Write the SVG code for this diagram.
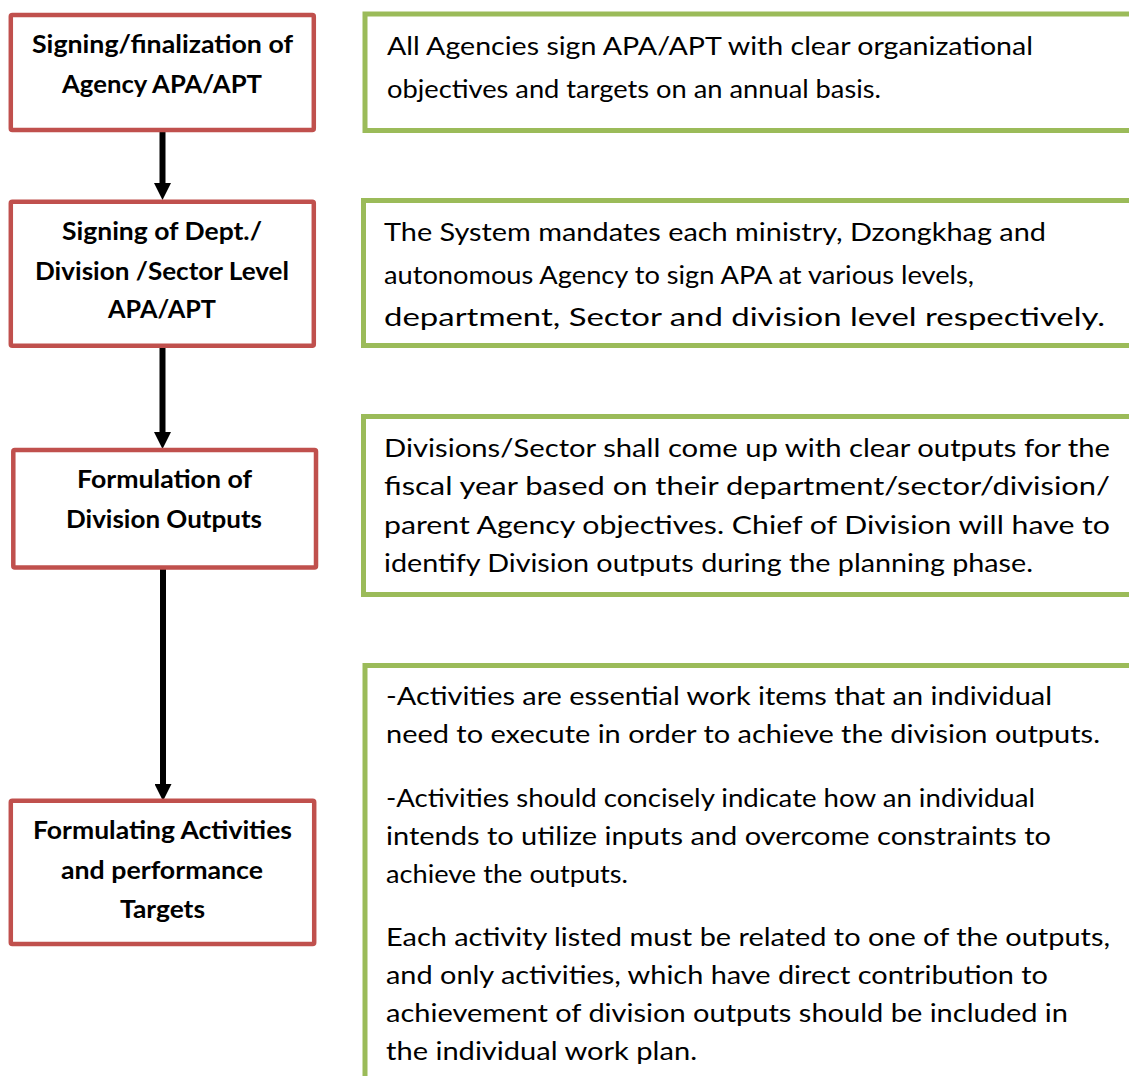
<svg xmlns="http://www.w3.org/2000/svg" width="1129" height="1076" viewBox="0 0 1129 1076">
<style>
.step{fill:#ffffff;stroke:#c0504d;stroke-width:4.5}
.note{fill:#ffffff;stroke:#9bbb59;stroke-width:5}
.lbl{font-family:Lato,"Open Sans","Liberation Sans",sans-serif;font-weight:700;font-size:25px;fill:#000000}
.txt{font-family:Lato,"Open Sans","Liberation Sans",sans-serif;font-weight:400;font-size:25px;fill:#000000}
.conn{stroke:#000000;stroke-width:6;fill:none}
</style>
<defs>
<marker id="ah" markerUnits="userSpaceOnUse" markerWidth="17" markerHeight="17" viewBox="0 0 17 17" refX="1" refY="8.5" orient="auto">
<path d="M0,0 L17,8.5 L0,17 Z" fill="#000000"/>
</marker>
</defs>
<rect width="1129" height="1076" fill="#ffffff"/>
<g id="connectors">
<line class="conn" x1="162.5" y1="131" x2="162.5" y2="184" marker-end="url(#ah)"/>
<line class="conn" x1="162.5" y1="347" x2="162.5" y2="433" marker-end="url(#ah)"/>
<line class="conn" x1="163" y1="569" x2="163" y2="785" marker-end="url(#ah)"/>
</g>
<g id="step1">
<rect class="step" x="10.8" y="15" width="303" height="115" rx="1.5"/>
<text class="lbl" x="32" y="53" textLength="261" lengthAdjust="spacingAndGlyphs">Signing/finalization of</text>
<text class="lbl" x="62" y="93" textLength="200" lengthAdjust="spacingAndGlyphs">Agency APA/APT</text>
</g>
<g id="step2">
<rect class="step" x="10.8" y="201.7" width="303" height="144" rx="1.5"/>
<text class="lbl" x="62" y="240" textLength="200" lengthAdjust="spacingAndGlyphs">Signing of Dept./</text>
<text class="lbl" x="35" y="280" textLength="254" lengthAdjust="spacingAndGlyphs">Division /Sector Level</text>
<text class="lbl" x="108" y="318" textLength="108" lengthAdjust="spacingAndGlyphs">APA/APT</text>
</g>
<g id="step3">
<rect class="step" x="13.3" y="450" width="302.7" height="117.5" rx="1.5"/>
<text class="lbl" x="77" y="488" textLength="175" lengthAdjust="spacingAndGlyphs">Formulation of</text>
<text class="lbl" x="66" y="528" textLength="196" lengthAdjust="spacingAndGlyphs">Division Outputs</text>
</g>
<g id="step4">
<rect class="step" x="10.8" y="800.8" width="303.4" height="143.2" rx="1.5"/>
<text class="lbl" x="33" y="839" textLength="259" lengthAdjust="spacingAndGlyphs">Formulating Activities</text>
<text class="lbl" x="61" y="879" textLength="202" lengthAdjust="spacingAndGlyphs">and performance</text>
<text class="lbl" x="120" y="918" textLength="85" lengthAdjust="spacingAndGlyphs">Targets</text>
</g>
<g id="note1">
<rect class="note" x="365" y="14" width="800" height="116.5"/>
<text class="txt" x="387" y="55" textLength="646" lengthAdjust="spacingAndGlyphs">All Agencies sign APA/APT with clear organizational</text>
<text class="txt" x="387" y="98" textLength="494" lengthAdjust="spacingAndGlyphs">objectives and targets on an annual basis.</text>
</g>
<g id="note2">
<rect class="note" x="363.5" y="200.5" width="800" height="145"/>
<text class="txt" x="384" y="241" textLength="662" lengthAdjust="spacingAndGlyphs">The System mandates each ministry, Dzongkhag and</text>
<text class="txt" x="384" y="283.5" textLength="590" lengthAdjust="spacingAndGlyphs">autonomous Agency to sign APA at various levels,</text>
<text class="txt" x="384" y="326" textLength="721" lengthAdjust="spacingAndGlyphs">department, Sector and division level respectively.</text>
</g>
<g id="note3">
<rect class="note" x="363.5" y="416.5" width="800" height="178"/>
<text class="txt" x="384" y="457" textLength="726" lengthAdjust="spacingAndGlyphs">Divisions/Sector shall come up with clear outputs for the</text>
<text class="txt" x="384" y="495" textLength="726" lengthAdjust="spacingAndGlyphs">fiscal year based on their department/sector/division/</text>
<text class="txt" x="384" y="533.5" textLength="726" lengthAdjust="spacingAndGlyphs">parent Agency objectives. Chief of Division will have to</text>
<text class="txt" x="384" y="572" textLength="649" lengthAdjust="spacingAndGlyphs">identify Division outputs during the planning phase.</text>
</g>
<g id="note4">
<rect class="note" x="365" y="665.5" width="800" height="500"/>
<text class="txt" x="386" y="705" textLength="666" lengthAdjust="spacingAndGlyphs">-Activities are essential work items that an individual</text>
<text class="txt" x="386" y="743" textLength="714" lengthAdjust="spacingAndGlyphs">need to execute in order to achieve the division outputs.</text>
<text class="txt" x="386" y="807" textLength="649" lengthAdjust="spacingAndGlyphs">-Activities should concisely indicate how an individual</text>
<text class="txt" x="386" y="845" textLength="665" lengthAdjust="spacingAndGlyphs">intends to utilize inputs and overcome constraints to</text>
<text class="txt" x="386" y="883" textLength="242" lengthAdjust="spacingAndGlyphs">achieve the outputs.</text>
<text class="txt" x="386" y="946" textLength="724" lengthAdjust="spacingAndGlyphs">Each activity listed must be related to one of the outputs,</text>
<text class="txt" x="386" y="984" textLength="662" lengthAdjust="spacingAndGlyphs">and only activities, which have direct contribution to</text>
<text class="txt" x="386" y="1022" textLength="682" lengthAdjust="spacingAndGlyphs">achievement of division outputs should be included in</text>
<text class="txt" x="386" y="1060" textLength="311" lengthAdjust="spacingAndGlyphs">the individual work plan.</text>
</g>
</svg>
